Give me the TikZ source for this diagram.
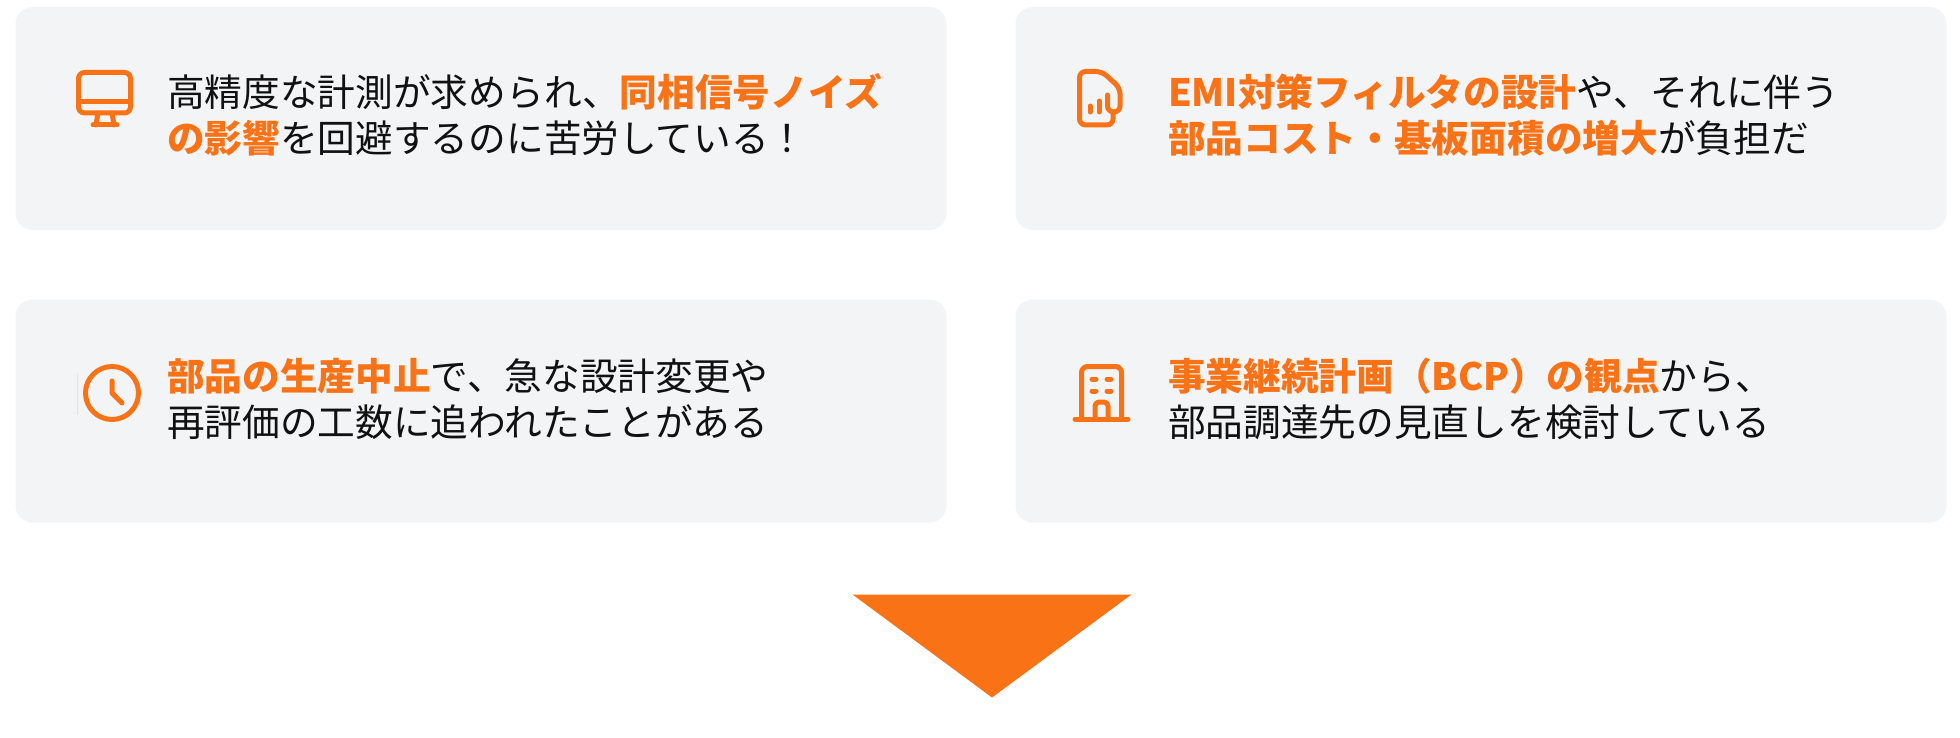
\documentclass[tikz,border=0pt]{standalone}
\usepackage{fontspec}
\setmainfont{Noto Sans CJK JP}
\usepackage{tikz}
\usetikzlibrary{positioning}
\definecolor{accent}{HTML}{F97316}
\definecolor{cardgray}{HTML}{F3F4F6}
\definecolor{inkblack}{HTML}{111111}
\newcommand{\hot}[1]{\textbf{\textcolor{accent}{#1}}}
\begin{document}
\begin{tikzpicture}[x=1pt,y=-1pt,
                    card/.style={fill=cardgray,rounded corners=17pt,minimum width=931pt,
                                 minimum height=223pt,inner sep=0pt},
                    cardtext/.style={anchor=west,align=left,inner sep=0pt,text=inkblack,
                                     font=\fontsize{37.68pt}{46pt}\selectfont},
                    icon/.style={draw=accent,line width=5pt,line cap=round,line join=round}]
\useasboundingbox (0,0) rectangle (1960,738);
% The four cards first:
\foreach \card/\x/\y in {monitor/481/118.5,report/1481/118.5,clock/481/411,building/1481/411}
{
      \node [card] (card \card) at (\x,\y) {};
}
% Their texts:
\node [cardtext] (text monitor) at (167,115)
      {高精度な計測が求められ、\hot{同相信号ノイズ}\\\hot{の影響}を回避するのに苦労している！};
\node [cardtext] (text report) at (1168,115)
      {\hot{EMI対策フィルタの設計}や、それに伴う\\\hot{部品コスト・基板面積の増大}が負担だ};
\node [cardtext] (text clock) at (167,399)
      {\hot{部品の生産中止}で、急な設計変更や\\再評価の工数に追われたことがある};
\node [cardtext] (text building) at (1168,399)
      {\hot{事業継続計画（BCP）の観点}から、\\部品調達先の見直しを検討している};
% Monitor icon
\draw [icon,rounded corners=6pt] (78.5,72.5) rectangle (130.5,113);
\draw [icon] (78.5,102) -- (130.5,102);
\draw [icon] (98,113) -- (96,125) (112,113) -- (114,125);
\draw [icon] (93,125) -- (117,125);
% Report icon
\draw [icon,rounded corners=6pt] (1113,112) -- (1113,125) -- (1079.5,125) -- (1079.5,71.5)
      -- (1102,71.5) -- (1120,88) -- (1120,112) -- (1107.5,112) -- (1107.5,95);
\draw [icon] (1090,106) -- (1090,112);
\draw [icon] (1099,101) -- (1099,112);
% Clock icon
\draw [accent!25,line width=1pt] (77,373) -- (77,415);
\draw [icon] (112,393) circle [radius=26.5];
\draw [icon] (112,381) -- (112,393) -- (122,403);
% Building icon
\draw [icon,rounded corners=6pt] (1081.5,419) -- (1081.5,366.5) -- (1121.5,366.5) -- (1121.5,419);
\draw [icon] (1075,419) -- (1128,419);
\draw [icon,rounded corners=4pt] (1095,419) -- (1095,402) -- (1108,402) -- (1108,419);
\foreach \x in {1094,1109}
{
      \foreach \y in {379,391}
      {
            \draw [icon] (\x-2,\y) -- (\x+2,\y);
      }
}
% Big arrow at the bottom
\coordinate (arrow left) at (852.5,594.5);
\coordinate (arrow right) at (1131.5,594.5);
\coordinate (arrow tip) at (992,697.5);
\fill [accent] (arrow left) -- (arrow right) -- (arrow tip) -- cycle;
\end{tikzpicture}
\end{document}
